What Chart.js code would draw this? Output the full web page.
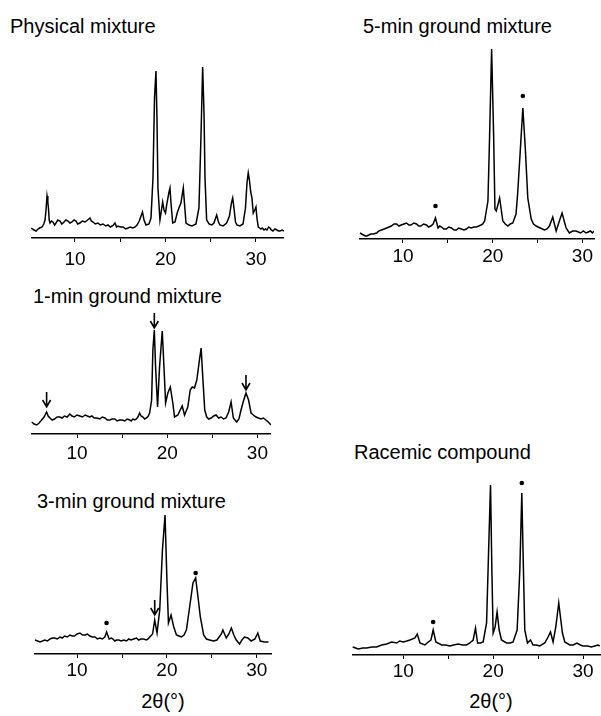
<!DOCTYPE html>
<html>
<head>
<meta charset="utf-8">
<script src="https://cdn.jsdelivr.net/npm/chart.js@4.4.0/dist/chart.umd.min.js"></script>
<style>
  body { margin: 0; background: #fff; width: 601px; height: 716px; position: relative; overflow: hidden; }
  canvas { position: absolute; }
  .lbl { position: absolute; font-family: "Liberation Sans", Arial, sans-serif; font-size: 20px; line-height: 20px; color: #000; white-space: nowrap; }
  .ax { width: 100px; text-align: center; }
</style>
</head>
<body>
<div class="lbl" style="left:10px; top:16px;">Physical mixture</div>
<div class="lbl" style="left:363px; top:16px;">5-min ground mixture</div>
<div class="lbl" style="left:33px; top:286px;">1-min ground mixture</div>
<div class="lbl" style="left:37px; top:491px;">3-min ground mixture</div>
<div class="lbl" style="left:354px; top:442px;">Racemic compound</div>
<div class="lbl ax" style="left:113px; top:691px;">2θ(°)</div>
<div class="lbl ax" style="left:441px; top:691px;">2θ(°)</div>

<canvas id="physical"></canvas>
<canvas id="min5"></canvas>
<canvas id="min1"></canvas>
<canvas id="min3"></canvas>
<canvas id="racemic"></canvas>

<script>
    "use strict";

    // tick positions on every 2theta axis (15 and 25 carry no label)
    var tickValues = [10, 15, 20, 25, 30];

    // Physical mixture
    var physTheta = [5.14, 5.3, 5.47, 5.7, 5.91, 6.1, 6.36, 6.55, 6.69, 6.8,
        6.91, 7.0, 7.07, 7.15, 7.24, 7.4, 7.57, 7.75, 7.90, 8.1,
        8.34, 8.55, 8.79, 9.0, 9.23, 9.45, 9.67, 9.9, 10.11, 10.3,
        10.55, 10.8, 11.11, 11.4, 11.66, 11.8, 11.99, 12.25, 12.54, 12.8,
        13.10, 13.4, 13.65, 13.9, 14.09, 14.25, 14.42, 14.6, 14.75, 15.0,
        15.31, 15.6, 15.86, 16.1, 16.41, 16.65, 16.86, 17.1, 17.30, 17.46,
        17.63, 17.85, 18.18, 18.40, 18.62, 18.79, 18.95, 19.06, 19.17, 19.39,
        19.56, 19.69, 19.84, 20.00, 20.17, 20.39, 20.50, 20.61, 20.80, 21.05,
        21.33, 21.53, 21.71, 21.97, 22.10, 22.27, 22.60, 22.93, 23.37, 23.70,
        23.92, 24.11, 24.26, 24.37, 24.55, 24.81, 25.11, 25.36, 25.66, 25.86,
        26.02, 26.36, 26.76, 27.07, 27.29, 27.43, 27.57, 27.74, 27.90, 28.23,
        28.57, 28.84, 29.01, 29.15, 29.28, 29.42, 29.56, 29.70, 29.87, 30.00,
        30.11, 30.26, 30.4, 30.55, 30.7, 30.89, 31.05, 31.22, 31.4, 31.55,
        31.7, 31.88, 32.1, 32.32, 32.5, 32.65, 32.9, 33.1];
    var physCounts = [10, 9, 8, 7, 9, 10, 11, 14, 18, 28,
        42, 36, 30, 18, 15, 17, 16, 13, 15, 18,
        17, 14, 16, 18, 17, 15, 16, 18, 17, 14,
        15, 17, 16, 18, 20, 17, 16, 14, 15, 13,
        14, 12, 13, 11, 12, 13, 15, 11, 12, 11,
        11, 9, 10, 11, 10, 11, 13, 17, 22, 26,
        18, 13, 14, 20, 60, 140, 167, 120, 50, 18,
        28, 36, 28, 25, 35, 46, 50, 35, 15, 16,
        26, 31, 35, 50, 35, 15, 13, 12, 14, 30,
        100, 171, 125, 60, 18, 14, 13, 15, 23, 16,
        13, 12, 15, 22, 35, 40, 30, 16, 13, 12,
        14, 30, 55, 65, 58, 46, 40, 25, 28, 31,
        20, 11, 10, 9, 10, 8, 9, 8, 11, 10,
        8, 7, 9, 8, 7, 7, 8, 7];

    // 5-min ground mixture
    var min5Theta = [5.21, 5.4, 5.6, 5.8, 5.96, 6.2, 6.4, 6.7, 7.07, 7.3,
        7.6, 7.9, 8.18, 8.45, 8.7, 9.0, 9.29, 9.55, 9.8, 10.1,
        10.4, 10.65, 10.9, 11.2, 11.51, 11.75, 12.0, 12.3, 12.62, 12.85,
        13.1, 13.36, 13.62, 13.91, 14.1, 14.3, 14.55, 14.84, 15.1, 15.4,
        15.7, 15.96, 16.2, 16.5, 16.8, 17.07, 17.35, 17.6, 17.9, 18.18,
        18.45, 18.7, 18.9, 19.1, 19.47, 19.66, 19.88, 20.1, 20.25, 20.4,
        20.77, 21.13, 21.4, 21.69, 21.95, 22.24, 22.6, 22.8, 23.07, 23.36,
        23.63, 23.91, 24.29, 24.55, 24.84, 25.3, 25.77, 26.05, 26.32, 26.69,
        27.07, 27.43, 27.73, 28.18, 28.54, 28.9, 29.29, 29.55, 29.8, 30.1,
        30.4, 30.65, 30.9, 31.1, 31.3];
    var min5Counts = [6, 5, 4, 3, 3, 4, 5, 5, 6, 8,
        9, 10, 11, 12, 13, 15, 15, 13, 14, 15,
        16, 14, 14, 16, 15, 13, 13, 15, 14, 12,
        13, 15, 21, 11, 13, 12, 10, 10, 12, 11,
        9, 9, 11, 10, 9, 10, 12, 11, 12, 12,
        13, 14, 15, 18, 38, 105, 190, 105, 30, 28,
        41, 18, 15, 13, 15, 16, 25, 48, 88, 131,
        91, 41, 20, 15, 13, 11, 9, 10, 13, 22,
        8, 18, 26, 11, 6, 8, 8, 7, 6, 8,
        6, 7, 8, 6, 8];
    var min5Stars = [[13.62, 33], [23.36, 143]];

    // 1-min ground mixture
    var min1Theta = [4.98, 5.25, 5.53, 5.8, 6.08, 6.35, 6.63, 6.8, 7.0, 7.25,
        7.5, 7.8, 8.1, 8.35, 8.6, 8.9, 9.21, 9.45, 9.7, 10.0,
        10.31, 10.6, 10.9, 11.15, 11.42, 11.65, 11.9, 12.2, 12.52, 12.8,
        13.1, 13.35, 13.63, 13.9, 14.2, 14.45, 14.73, 15.0, 15.3, 15.55,
        15.84, 16.0, 16.2, 16.4, 16.58, 16.75, 16.94, 17.1, 17.31, 17.5,
        17.7, 17.9, 18.05, 18.27, 18.41, 18.57, 18.71, 18.93, 19.15, 19.45,
        19.67, 19.82, 20.07, 20.34, 20.62, 20.81, 21.18, 21.44, 21.66, 21.92,
        22.28, 22.55, 22.77, 23.02, 23.28, 23.57, 23.76, 23.94, 24.16, 24.38,
        24.6, 24.87, 25.15, 25.42, 25.7, 25.97, 26.25, 26.52, 26.81, 27.08,
        27.33, 27.7, 27.95, 28.18, 28.45, 28.73, 29.02, 29.29, 29.55, 29.84,
        30.1, 30.39, 30.65, 30.94, 31.2, 31.5];
    var min1Counts = [12, 10, 9, 11, 14, 17, 22, 18, 16, 14,
        15, 17, 17, 16, 18, 17, 20, 18, 17, 19,
        18, 17, 19, 18, 17, 18, 16, 16, 15, 17,
        16, 14, 14, 15, 15, 13, 14, 14, 13, 15,
        14, 13, 15, 14, 15, 17, 21, 18, 17, 15,
        16, 18, 21, 34, 84, 104, 67, 27, 67, 103,
        61, 31, 41, 47, 31, 17, 19, 24, 28, 19,
        27, 44, 47, 46, 54, 74, 86, 57, 24, 17,
        15, 16, 18, 19, 16, 17, 15, 16, 22, 32,
        16, 12, 15, 24, 33, 41, 34, 21, 19, 17,
        16, 15, 16, 14, 12, 9];
    var min1Arrows = [[6.63, 27], [18.57, 106], [28.73, 44]];

    // 3-min ground mixture
    var min3Theta = [5.31, 5.6, 5.87, 6.15, 6.4, 6.7, 6.98, 7.25, 7.5, 7.8,
        8.09, 8.35, 8.6, 8.9, 9.2, 9.45, 9.7, 10.0, 10.31, 10.6,
        10.9, 11.15, 11.42, 11.7, 12.0, 12.25, 12.53, 12.8, 13.09, 13.28,
        13.57, 13.8, 14.0, 14.2, 14.39, 14.65, 14.9, 15.2, 15.5, 15.75,
        16.0, 16.3, 16.61, 16.85, 17.1, 17.4, 17.72, 17.9, 18.09, 18.4,
        18.64, 18.9, 19.2, 19.5, 19.79, 20.01, 20.17, 20.46, 20.76, 21.06,
        21.35, 21.61, 21.9, 22.17, 22.53, 22.9, 23.2, 23.46, 23.72, 24.09,
        24.4, 24.76, 25.2, 25.57, 26.06, 26.23, 26.61, 26.9, 27.17, 27.45,
        27.72, 28.09, 28.35, 28.64, 29.01, 29.39, 29.8, 30.12, 30.39, 30.87,
        31.3];
    var min3Counts = [14, 13, 12, 13, 14, 13, 15, 16, 16, 15,
        17, 16, 18, 17, 19, 18, 18, 20, 21, 19,
        19, 20, 18, 17, 17, 15, 16, 15, 17, 22,
        15, 16, 15, 13, 14, 14, 13, 14, 13, 15,
        14, 15, 16, 14, 15, 15, 14, 15, 17, 20,
        34, 21, 44, 104, 139, 71, 31, 39, 27, 19,
        18, 17, 19, 24, 47, 71, 76, 57, 37, 19,
        15, 14, 13, 14, 20, 24, 16, 20, 26, 19,
        14, 10, 14, 17, 16, 13, 15, 21, 13, 12,
        12];
    var min3Stars = [[13.28, 31], [23.2, 81]];
    var min3Arrows = [[18.64, 39]];

    // Racemic compound
    var racTheta = [4.38, 5.0, 5.5, 5.93, 6.5, 7.04, 7.6, 8.16, 8.71, 9.27, 9.6, 10.0, 10.4, 10.74, 11.3, 11.56, 11.86, 12.41, 12.78, 13.08,
        13.33, 13.63, 14.27, 14.7, 15.19, 15.6, 16.11, 16.6, 17.04, 17.41, 17.78, 18.04, 18.27, 18.6, 18.89, 19.27, 19.49, 19.71, 19.86, 20.0,
        20.22, 20.44, 20.67, 20.93, 21.49, 21.9, 22.22, 22.67, 22.97, 23.19, 23.33, 23.52, 23.82, 24.16, 24.44, 24.8, 25.19, 25.74, 26.11, 26.38,
        26.67, 26.97, 27.3, 27.49, 27.71, 27.97, 28.52, 28.9, 29.33, 29.7, 30.0, 30.5, 30.93, 31.3, 31.67, 31.86];
    var racCounts = [8, 6, 7, 7, 8, 8, 10, 11, 13, 12, 14, 13, 14, 15, 17, 21, 12, 10, 13, 15,
        25, 13, 10, 10, 9, 10, 11, 10, 10, 12, 15, 27, 12, 12, 13, 32, 102, 170, 85, 22,
        28, 43, 25, 15, 12, 12, 13, 25, 85, 162, 102, 25, 12, 15, 10, 10, 9, 12, 18, 23,
        13, 28, 52, 38, 22, 13, 10, 10, 12, 10, 9, 9, 8, 9, 10, 9];
    var racStars = [[13.33, 33], [23.19, 172]];

    Chart.defaults.font.family = '"Liberation Sans", Arial, sans-serif';
    Chart.defaults.color = "#000000";

    // asterisks and arrows, placed in data coordinates
    var marksPlugin = {
        id: "marks",
        afterDatasetsDraw: function (chart, args, opts) {
            var ctx = chart.ctx, x = chart.scales.x, y = chart.scales.y;
            ctx.save();
            ctx.fillStyle = "#000";
            ctx.strokeStyle = "#000";
            (opts.stars || []).forEach(function (s) {
                ctx.beginPath();
                ctx.arc(x.getPixelForValue(s[0]), y.getPixelForValue(s[1]), 2.3, 0, Math.PI * 2);
                ctx.fill();
            });
            (opts.arrows || []).forEach(function (a) {
                var px = x.getPixelForValue(a[0]), py = y.getPixelForValue(a[1]);
                ctx.lineWidth = 1.6;
                ctx.beginPath();
                ctx.moveTo(px, py - 15);
                ctx.lineTo(px, py);
                ctx.moveTo(px - 4, py - 7);
                ctx.lineTo(px, py);
                ctx.lineTo(px + 4, py - 7);
                ctx.stroke();
            });
            ctx.restore();
        }
    };

    // one diffractogram panel
    function pattern(id, theta, counts, box, marks) {
        var canvas = document.getElementById(id);
        var axisH = 34;
        canvas.width = box.right - box.left;
        canvas.height = box.ymax + axisH;
        canvas.style.left = box.left + "px";
        canvas.style.top = (box.axisY - box.ymax) + "px";
        return new Chart(canvas.getContext("2d"), {
            type: "line",
            data: {
                datasets: [{
                    data: theta.map(function (t, i) { return {x: t, y: counts[i]}; }),
                    borderColor: "#000000",
                    borderWidth: 1.5,
                    pointRadius: 0,
                    tension: 0,
                    fill: false
                }]
            },
            options: {
                responsive: false,
                animation: false,
                devicePixelRatio: 1,
                layout: {padding: 0, autoPadding: false},
                plugins: {legend: {display: false}, tooltip: {enabled: false}, marks: marks},
                scales: {
                    x: {
                        type: "linear",
                        min: box.xmin,
                        max: box.xmax,
                        afterBuildTicks: function (scale) {
                            scale.ticks = tickValues.map(function (v) { return {value: v}; });
                        },
                        afterFit: function (scale) { scale.height = axisH; },
                        border: {display: true, color: "#000000", width: 1.5},
                        grid: {drawOnChartArea: false, drawTicks: true, tickLength: 4, color: "#000000", lineWidth: 1},
                        ticks: {
                            padding: box.pad,
                            maxRotation: 0,
                            font: {size: 19},
                            color: "#000000",
                            callback: function (v) { return v % 10 === 0 ? String(v) : ""; }
                        }
                    },
                    y: {display: false, min: 0, max: box.ymax}
                }
            },
            plugins: [marksPlugin]
        });
    }

    pattern("physical", physTheta, physCounts, {left: 31, right: 284, axisY: 238, ymax: 180, xmin: 5.14, xmax: 33.1, pad: 6}, {});
    pattern("min5", min5Theta, min5Counts, {left: 359, right: 595, axisY: 239, ymax: 196, xmin: 5.1, xmax: 31.3, pad: 2}, {stars: min5Stars});
    pattern("min1", min1Theta, min1Counts, {left: 31, right: 272, axisY: 434, ymax: 125, xmin: 4.9, xmax: 31.5, pad: 4}, {arrows: min1Arrows});
    pattern("min3", min3Theta, min3Counts, {left: 34, right: 272, axisY: 654, ymax: 145, xmin: 5.2, xmax: 31.7, pad: 1}, {stars: min3Stars, arrows: min3Arrows});
    pattern("racemic", racTheta, racCounts, {left: 352, right: 601, axisY: 655, ymax: 180, xmin: 4.3, xmax: 32.0, pad: 1}, {stars: racStars});
</script>
</body>
</html>
